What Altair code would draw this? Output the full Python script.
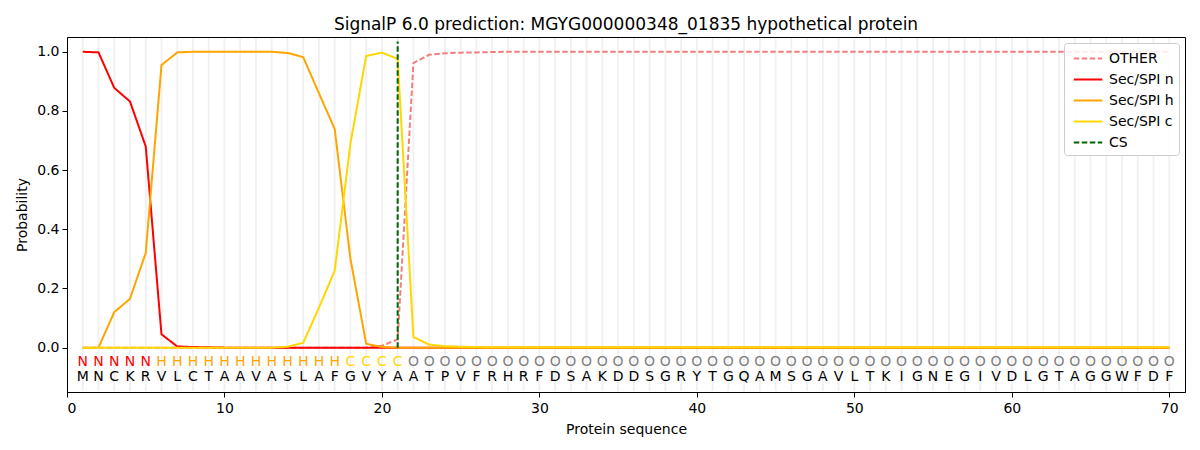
import altair as alt
import pandas as pd

seq = list("MNCKRVLCTAAVASLAFGVYAATPVFRHRFDSAKDDSGRYTGQAMSGAVLTKIGNEGIVDLGTAGGWFDF")
states = ["N"] * 5 + ["H"] * 12 + ["C"] * 4 + ["O"] * 49
positions = list(range(1, 71))

other = [0.0] * 19 + [0.006, 0.028, 0.962, 0.99, 0.995, 0.997, 0.998, 0.999] + [1.0] * 43
sec_n = [1.0, 0.998, 0.878, 0.832, 0.68, 0.045, 0.004, 0.002, 0.001] + [0.0] * 61
sec_h = [0.0, 0.0, 0.12, 0.165, 0.32, 0.955, 0.998, 1.0, 1.0, 1.0, 1.0, 1.0, 1.0, 0.996,
         0.982, 0.86, 0.739, 0.30, 0.013, 0.002] + [0.0] * 50
sec_c = [0.0] * 13 + [0.003, 0.016, 0.135, 0.26, 0.69, 0.986, 0.997, 0.976, 0.036, 0.01,
                     0.005, 0.003, 0.002] + [0.001] * 44
cs_pos = 21

series_names = ["OTHER", "Sec/SPI n", "Sec/SPI h", "Sec/SPI c", "CS"]
series_colors = ["#f08080", "#ff0000", "#ffa500", "#ffd700", "#006400"]
series_dash = [[5.5, 2.5], [1, 0], [1, 0], [1, 0], [5.5, 2.5]]

rows = []
for name, vals in zip(series_names[:4], [other, sec_n, sec_h, sec_c]):
    for p, v in zip(positions, vals):
        rows.append({"series": name, "pos": p, "prob": v})
lines_df = pd.DataFrame(rows)

letters_df = pd.DataFrame({"pos": positions, "aa": seq, "state": states})
grid_df = pd.DataFrame({"pos": positions})
cs_df = pd.DataFrame({"pos": [cs_pos], "y0": [0.0], "y1": [1.035], "series": ["CS"]})

W, H = 1118, 355
FONT = "DejaVu Sans"
xscale = alt.Scale(domain=[0, 71], nice=False, zero=False)
yscale = alt.Scale(domain=[-0.15, 1.05], nice=False, zero=False)
color_scale = alt.Scale(domain=series_names, range=series_colors)
dash_scale = alt.Scale(domain=series_names, range=series_dash)

xaxis = alt.Axis(title="Protein sequence", values=list(range(0, 71, 10)), format="d",
                 grid=False, tickSize=5, labelPadding=4, titlePadding=7)
yaxis = alt.Axis(title="Probability", values=[0, 0.2, 0.4, 0.6, 0.8, 1.0], format=".1f",
                 grid=False, tickSize=5, labelPadding=3, titlePadding=7)

grid = alt.Chart(grid_df).mark_rule(color="#f0f0f0", strokeWidth=1.8).encode(
    x=alt.X("pos:Q", scale=xscale, axis=xaxis),
    y=alt.value(1), y2=alt.value(H - 1),
)

lines = alt.Chart(lines_df).mark_line(strokeWidth=2).encode(
    x=alt.X("pos:Q", scale=xscale, axis=xaxis),
    y=alt.Y("prob:Q", scale=yscale, axis=yaxis),
    color=alt.Color("series:N", scale=color_scale,
                    legend=alt.Legend(title=None, orient="top-right",
                                      symbolType="M-0.6,0L2.4,0",
                                      symbolStrokeWidth=2, symbolSize=361,
                                      labelFontSize=14, labelFont=FONT, rowPadding=3,
                                      offset=6, padding=5, labelOffset=19,
                                      fillColor="rgba(255,255,255,0.85)",
                                      strokeColor="#cccccc",
                                      cornerRadius=3, labelColor="black")),
    strokeDash=alt.StrokeDash("series:N", scale=dash_scale, legend=None),
    order=alt.Order("pos:Q"),
)

cs = alt.Chart(cs_df).mark_rule(strokeWidth=2, strokeDash=[5.5, 2.5], color="#006400").encode(
    x=alt.X("pos:Q", scale=xscale),
    y=alt.Y("y0:Q", scale=yscale),
    y2="y1:Q",
)

state_colors = {"N": "#ff0000", "H": "#ffa500", "C": "#ffd700", "O": "#808080"}
state_layers = []
for st, col in state_colors.items():
    state_layers.append(
        alt.Chart(letters_df[letters_df["state"] == st]).mark_text(
            fontSize=14, color=col, baseline="middle", align="center", font=FONT
        ).encode(
            x=alt.X("pos:Q", scale=xscale),
            y=alt.YDatum(-0.047),
            text="state:N",
        )
    )

seq_layer = alt.Chart(letters_df).mark_text(
    fontSize=14, color="black", baseline="middle", align="center", font=FONT
).encode(
    x=alt.X("pos:Q", scale=xscale),
    y=alt.YDatum(-0.098),
    text="aa:N",
)

chart = alt.layer(grid, lines, cs, *state_layers, seq_layer).properties(
    width=W, height=H,
    title=alt.TitleParams("SignalP 6.0 prediction: MGYG000000348_01835 hypothetical protein",
                          fontSize=17, fontWeight="normal", font=FONT, offset=3),
    autosize=alt.AutoSizeParams(type="none"),
    padding={"left": 59, "top": 29, "right": 5, "bottom": 52},
).configure_view(stroke="black", strokeWidth=1).configure_axis(
    labelFont=FONT, titleFont=FONT, labelFontSize=14, titleFontSize=14,
    titleFontWeight="normal", labelColor="black", titleColor="black",
    domainColor="black", tickColor="black",
)

chart.save("out.html", embed_options={"renderer": "svg", "actions": False})
